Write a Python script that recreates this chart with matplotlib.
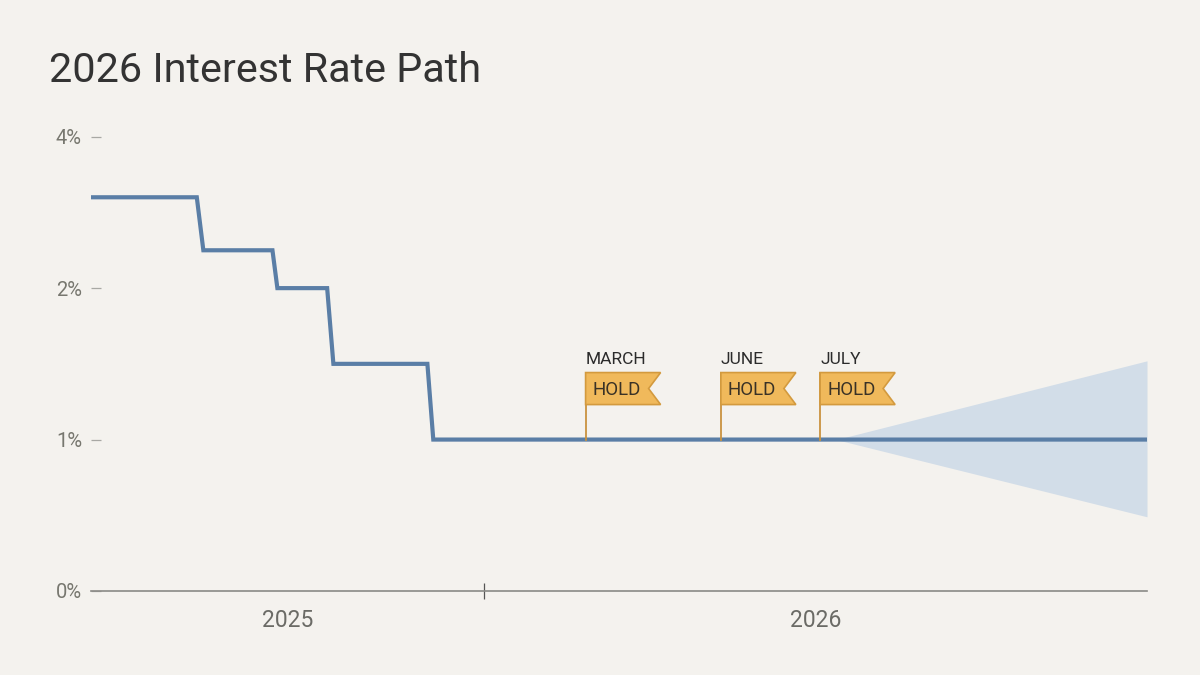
import numpy as np
import matplotlib
matplotlib.use("Agg")
import matplotlib.pyplot as plt
from matplotlib.patches import Polygon
import matplotlib.transforms as mtransforms

plt.rcParams['font.family'] = ['Roboto', 'DejaVu Sans']

# ---- data (x in months since Jan 2025) ----
path_x = [0.0, 3.23, 3.43, 5.54, 5.69, 7.21, 7.40, 10.27, 10.45, 32.24]
path_y = [3.2, 3.2, 2.5, 2.5, 2.0, 2.0, 1.5, 1.5, 1.0, 1.0]
band_x = [22.75, 32.24]
band_hi = [1.0, 1.52]
band_lo = [1.0, 0.49]
flag_x = [15.1, 19.23, 22.26]
flag_months = ["MARCH", "JUNE", "JULY"]
flag_text = "HOLD"
year_labels = ["2025", "2026"]
year_label_x = [6.0, 22.12]
year_divider = 12.0
y_ticks = [0, 1, 2, 4]
y_tick_labels = ["0%", "1%", "2%", "4%"]
x_max = 32.24

BG = "#f4f2ee"
LINE = "#5a7ea6"
BAND = "#d2dde8"

# piecewise scale: linear up to 2%, compressed above
def fwd(v):
    v = np.asarray(v, dtype=float)
    return np.where(v <= 2, v, 2 + (v - 2) / 2)

def inv(p):
    p = np.asarray(p, dtype=float)
    return np.where(p <= 2, p, 2 + (p - 2) * 2)

fig = plt.figure(figsize=(12, 6.75), dpi=100, facecolor=BG)
ax = fig.add_axes([91 / 1200, 1 - 591 / 675, (1147 - 91) / 1200, (591 - 136.7) / 675])
ax.set_facecolor(BG)
ax.set_yscale('function', functions=(fwd, inv))
ax.set_ylim(0, 4)
ax.set_xlim(0, x_max)

ax.fill_between(band_x, band_lo, band_hi, color=BAND, lw=0, zorder=1)
ax.plot(path_x, path_y, color=LINE, lw=3.0, solid_joinstyle='miter', zorder=3)

# spines
for s in ['top', 'right', 'left']:
    ax.spines[s].set_visible(False)
ax.spines['bottom'].set_color('#8a8a86')
ax.spines['bottom'].set_linewidth(1.2)

ax.set_yticks(y_ticks)
ax.set_yticklabels(y_tick_labels)
ax.tick_params(axis='y', direction='in', length=7.5, width=0.9, color='#a8a8a4',
               labelsize=14.5, labelcolor='#77776f', pad=6.5)

ax.set_xticks([year_divider])
ax.set_xticklabels([""])
ax.tick_params(axis='x', which='major', direction='inout', length=12, width=0.9, color='#555555')
ax.set_xticks(year_label_x, minor=True)
ax.set_xticklabels(year_labels, minor=True)
ax.tick_params(axis='x', which='minor', length=0, labelsize=16.5, labelcolor='#6b6b66', pad=13)

# flags
for fx, mname in zip(flag_x, flag_months):
    off = mtransforms.ScaledTranslation(fx, 1.0, ax.transData)
    tr = mtransforms.IdentityTransform() + off
    ax.add_line(plt.Line2D([0, 0], [0, 67], color='#c9923f', lw=1.3, transform=tr, zorder=4))
    poly = Polygon([(0, 35), (0, 67), (75, 67), (63, 51), (75, 35)], closed=True,
                   facecolor='#f0b95b', edgecolor='#d39a3e', lw=1.2, transform=tr, zorder=5)
    ax.add_patch(poly)
    ax.annotate(flag_text, xy=(fx, 1.0), xycoords='data', xytext=(7, 45),
                textcoords='offset pixels', ha='left', va='baseline', fontsize=13.5,
                color='#3a3226', zorder=6)
    ax.annotate(mname, xy=(fx, 1.0), xycoords='data', xytext=(0, 76),
                textcoords='offset pixels', ha='left', va='baseline', fontsize=12.5,
                color='#2b2b2b', zorder=6)

fig.text(49 / 1200, 1 - 82.3 / 675, "2026 Interest Rate Path", fontsize=29.8,
         color='#333333', ha='left', va='baseline')

fig.savefig("out.png", dpi=100, facecolor=BG)
